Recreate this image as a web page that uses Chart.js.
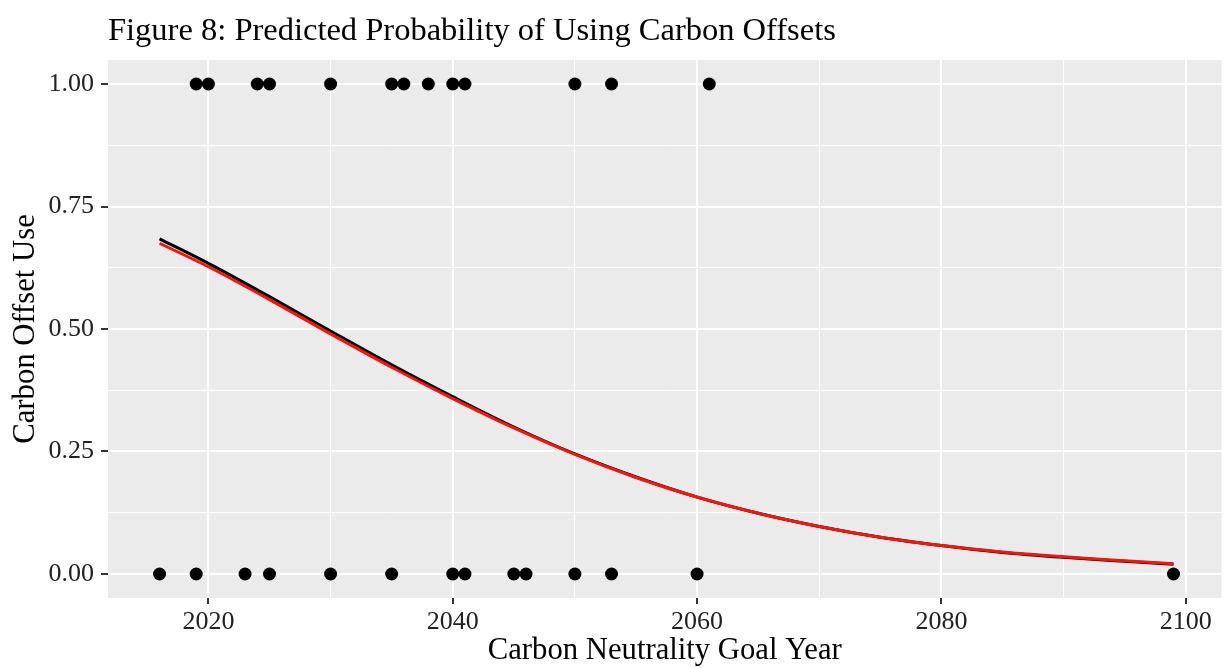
<!DOCTYPE html>
<html>
<head>
<meta charset="utf-8">
<script src="https://cdn.jsdelivr.net/npm/chart.js"></script>
<style>
  html, body { margin: 0; padding: 0; background: #fff; }
  #wrap { width: 1228px; height: 668px; }
</style>
</head>
<body>
<div id="wrap"><canvas id="chart" width="1228" height="668"></canvas></div>
<script>
// observed goal years, split by whether the organisation uses offsets
const yearsOffset = [2019, 2020, 2024, 2025, 2030, 2035, 2036, 2038, 2040, 2041, 2050, 2053, 2061];
const yearsNoOffset = [2016, 2019, 2023, 2025, 2030, 2035, 2040, 2041, 2045, 2046, 2050, 2053, 2060, 2099];

// fitted curves
const curveYears = [2016, 2020, 2025, 2030, 2035, 2040, 2045, 2050, 2055, 2060, 2065, 2070, 2075, 2080, 2085, 2090, 2095, 2099];
const fitBlack = [0.684, 0.634, 0.566, 0.496, 0.427, 0.362, 0.300, 0.245, 0.198, 0.157, 0.124, 0.097, 0.075, 0.058, 0.044, 0.034, 0.026, 0.020];
const fitRed   = [0.675, 0.627, 0.560, 0.490, 0.422, 0.358, 0.298, 0.244, 0.197, 0.157, 0.124, 0.097, 0.075, 0.058, 0.045, 0.035, 0.027, 0.021];

const yTickLabels = ['0.00', '0.25', '0.50', '0.75', '1.00'];
const xTickLabels = ['2020', '2040', '2060', '2080', '2100'];

const SERIF = "'Liberation Serif', 'Times New Roman', serif";

function toPoints(xs, ys) {
    return xs.map((x, i) => ({ x: x, y: ys[i] }));
}

// ggplot-ish grey panel + title
const panelPlugin = {
    id: 'panel',
    beforeDraw(chart) {
        const a = chart.chartArea;
        const ctx = chart.ctx;
        ctx.save();
        ctx.fillStyle = '#EBEBEB';
        ctx.fillRect(a.left, a.top, a.right - a.left, a.bottom - a.top);
        ctx.restore();
    },
    afterDraw(chart) {
        const ctx = chart.ctx;
        ctx.save();
        ctx.fillStyle = '#000';
        ctx.font = '32.5px ' + SERIF;
        ctx.textBaseline = 'alphabetic';
        ctx.textAlign = 'left';
        ctx.fillText('Figure 8: Predicted Probability of Using Carbon Offsets', chart.chartArea.left, 40);
        ctx.restore();
    }
};

const isMajorY = v => Math.abs(v * 4 - Math.round(v * 4)) < 1e-6;
const isMajorX = v => Math.round(v) % 20 === 0;

const ctx = document.getElementById('chart').getContext('2d');
new Chart(ctx, {
    type: 'scatter',
    data: {
        datasets: [
            {
                data: yearsOffset.map(x => ({ x: x, y: 1 })),
                backgroundColor: '#000',
                borderColor: '#000',
                pointRadius: 6.5,
                pointBorderWidth: 0
            },
            {
                data: yearsNoOffset.map(x => ({ x: x, y: 0 })),
                backgroundColor: '#000',
                borderColor: '#000',
                pointRadius: 6.5,
                pointBorderWidth: 0
            },
            {
                // red fit sits on top of the black one
                data: toPoints(curveYears, fitRed),
                showLine: true,
                borderColor: '#F2160C',
                borderWidth: 3,
                pointRadius: 0,
                cubicInterpolationMode: 'monotone'
            },
            {
                data: toPoints(curveYears, fitBlack),
                showLine: true,
                borderColor: '#000',
                borderWidth: 3,
                pointRadius: 0,
                cubicInterpolationMode: 'monotone'
            }
        ]
    },
    options: {
        responsive: false,
        animation: false,
        layout: { padding: { top: 60, left: 0, right: 0, bottom: 0 } },
        plugins: {
            legend: { display: false },
            tooltip: { enabled: false }
        },
        scales: {
            x: {
                type: 'linear',
                min: 2011.78,
                max: 2102.93,
                afterFit: s => { s.height = 70; },
                border: { display: false },
                grid: {
                    color: '#fff',
                    lineWidth: c => isMajorX(c.tick.value) ? 2 : 1,
                    tickColor: c => isMajorX(c.tick.value) ? '#333' : 'rgba(0,0,0,0)',
                    tickWidth: 2,
                    tickLength: 6
                },
                ticks: {
                    stepSize: 10,
                    includeBounds: false,
                    autoSkip: false,
                    maxRotation: 0,
                    padding: 3,
                    color: '#222',
                    font: { family: SERIF, size: 26 },
                    callback: v => isMajorX(v) ? xTickLabels[(Math.round(v) - 2020) / 20] : ''
                },
                title: {
                    display: true,
                    text: 'Carbon Neutrality Goal Year',
                    color: '#000',
                    font: { family: SERIF, size: 30.7, lineHeight: 1.1 },
                    padding: { top: 0, bottom: 0 }
                }
            },
            y: {
                min: -0.049,
                max: 1.049,
                afterFit: s => { s.width = 108; },
                border: { display: false },
                grid: {
                    color: '#fff',
                    lineWidth: c => isMajorY(c.tick.value) ? 2 : 1,
                    tickColor: c => isMajorY(c.tick.value) ? '#333' : 'rgba(0,0,0,0)',
                    tickWidth: 2,
                    tickLength: 7
                },
                ticks: {
                    stepSize: 0.125,
                    includeBounds: false,
                    autoSkip: false,
                    padding: 7,
                    color: '#222',
                    font: { family: SERIF, size: 26 },
                    callback: v => isMajorY(v) ? yTickLabels[Math.round(v * 4)] : ''
                },
                title: {
                    display: true,
                    text: 'Carbon Offset Use',
                    color: '#000',
                    font: { family: SERIF, size: 30.7, lineHeight: 1.1 },
                    padding: { top: 9, bottom: 0 }
                }
            }
        }
    },
    plugins: [panelPlugin]
});
</script>
</body>
</html>
